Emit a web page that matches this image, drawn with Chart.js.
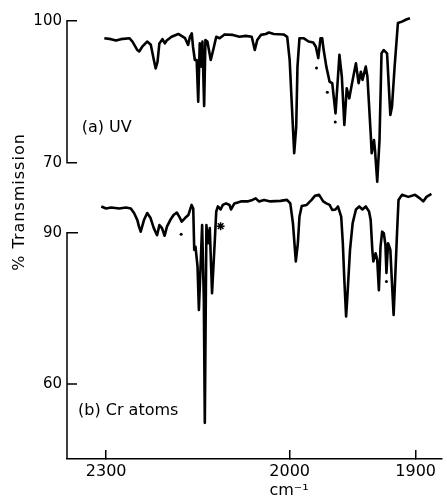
<!DOCTYPE html>
<html>
<head>
<meta charset="utf-8">
<script src="https://cdn.jsdelivr.net/npm/chart.js@4.4.0/dist/chart.umd.min.js"></script>
<style>
  html, body { margin: 0; padding: 0; background: #fff; }
  #wrap { width: 447px; height: 499px; }
</style>
</head>
<body>
<div id="wrap"><canvas id="irChart"></canvas></div>
<script>
// (a) UV trace: wavenumber (cm-1) and % transmission
const uvWave = [
  2303, 2292, 2284, 2276, 2262, 2257, 2249, 2246, 2241, 2233,
  2227, 2222, 2219, 2216, 2213, 2208, 2204, 2201, 2193, 2182,
  2171, 2166, 2163, 2160, 2158, 2155, 2152, 2149.5, 2147, 2144,
  2142.6, 2139.8, 2137.7, 2134.5, 2129, 2125, 2120, 2114.5, 2106.5, 2093,
  2082, 2072, 2062, 2057, 2053, 2047, 2039, 2034, 2026, 2010,
  2004, 2000, 1998.2, 1996.4, 1994.8, 1993.8, 1992.2, 1989, 1985, 1981.3,
  1979.2, 1977.3, 1975.5, 1974.2, 1973, 1970.9, 1968.3, 1966.2, 1963.6, 1960.5,
  1958.6, 1956.6, 1954.7, 1952.7, 1950, 1947.4, 1945.3, 1943.5, 1942.2, 1939.6,
  1938.3, 1935.7, 1934.9, 1933.1, 1932.3, 1930.5, 1928.7, 1927.1, 1925.3, 1922.7,
  1920.1, 1918.8, 1916.7, 1914.1, 1910.9, 1907, 1904.5
];
const uvTrans = [
  96.3, 96.1, 95.8, 96.1, 96.3, 95.6, 93.8, 93.5, 94.5, 95.6,
  94.9, 91.7, 89.9, 91.3, 95.2, 96.1, 95.2, 95.8, 96.6, 97.2,
  96.3, 94.9, 96.6, 97.3, 94.5, 91.7, 91.7, 82.9, 95.2, 90.3,
  95.6, 82.0, 95.9, 95.6, 91.7, 93.8, 96.6, 96.3, 97.1, 97.0,
  96.6, 96.8, 96.6, 93.8, 95.9, 97.0, 97.2, 97.5, 97.2, 97.1,
  96.6, 91.7, 81.8, 72.0, 77.6, 90.3, 96.3, 96.3, 95.6, 95.4,
  94.5, 92.1, 96.3, 96.3, 93.8, 90.3, 87.1, 86.8, 80.4, 92.8,
  88.2, 78.0, 85.7, 83.6, 87.5, 91.0, 86.8, 89.2, 87.5, 90.3,
  88.2, 76.2, 72.0, 74.8, 72.7, 66.0, 74.8, 93.1, 93.8, 93.1,
  80.1, 81.8, 90.3, 99.5, 99.8, 100.3, 100.5
];

// (b) Cr atoms trace
const crWave = [
  2308, 2300, 2292, 2278.5, 2267.7, 2259.7, 2254.4, 2249, 2246.3, 2243.5,
  2238.2, 2232.9, 2227.4, 2222.1, 2216.8, 2212.9, 2208.7, 2204.4, 2200.6, 2195.2,
  2189.8, 2184.5, 2180.6, 2176.5, 2171, 2165.6, 2160.3, 2157.6, 2156, 2153.9,
  2150.6, 2148.4, 2145.2, 2143.1, 2140.3, 2138.7, 2136.1, 2133.4, 2130.6, 2126.9,
  2122.6, 2120, 2117.3, 2112.9, 2109.2, 2103.9, 2098.4, 2095.8, 2090.3, 2079.7,
  2068.9, 2060.8, 2055.5, 2050, 2041.9, 2031.3, 2015.2, 2004.4, 1999.5, 1997.4,
  1995.1, 1993.5, 1992.2, 1990.4, 1986.5, 1982.6, 1980, 1976.6, 1973.4, 1970.9,
  1968.3, 1966.2, 1963.6, 1961.7, 1959.1, 1957.8, 1956.6, 1955.2, 1953.9, 1952.1,
  1950, 1947.4, 1944.8, 1942.2, 1939.6, 1937, 1935.7, 1934.4, 1933.6, 1931.8,
  1930.5, 1929.2, 1927.9, 1926.6, 1925.3, 1924, 1923.2, 1921.9, 1920.9, 1920.1,
  1918.8, 1917.5, 1916.2, 1914.8, 1913.6, 1910.9, 1905.8, 1900.5, 1896.6, 1894,
  1891.4, 1887.5
];
const crTrans = [
  95.2, 94.8, 95.0, 94.8, 95.0, 94.8, 93.9, 92.5, 91.2, 90.2,
  92.5, 93.9, 92.9, 90.9, 89.5, 91.5, 90.9, 89.4, 91.2, 92.5,
  93.5, 94.0, 93.2, 92.2, 92.9, 93.5, 95.5, 94.8, 86.6, 87.2,
  83.3, 74.7, 84.6, 91.5, 76.7, 52.3, 91.5, 87.9, 90.9, 78.0,
  87.9, 94.2, 95.2, 94.6, 95.5, 95.8, 95.5, 94.6, 95.8, 96.2,
  96.2, 96.5, 96.8, 96.2, 96.5, 96.2, 96.3, 96.5, 95.8, 91.9,
  84.3, 87.9, 93.2, 95.3, 95.5, 96.5, 97.3, 97.5, 96.2, 95.8,
  95.5, 94.5, 94.6, 95.2, 93.2, 87.9, 80.6, 73.4, 78.6, 86.6,
  91.9, 94.6, 95.2, 94.6, 95.2, 94.2, 92.5, 86.6, 84.3, 85.9,
  84.6, 78.6, 87.2, 90.2, 89.9, 87.6, 82.0, 87.9, 87.2, 86.6,
  80.0, 73.7, 81.3, 89.9, 96.5, 97.5, 97.1, 97.5, 96.8, 96.2,
  97.1, 97.7
];

// small dots and the asterisk marked under some bands
const uvDotWave = [1978.7, 1970.1, 1963.8];
const uvDotTrans = [90.0, 84.9, 78.6];
const crDotWave = [2177.4, 1923.2];
const crDotTrans = [89.7, 80.3];
const crStarWave = [2112.9];
const crStarTrans = [91.3];

const xTicks = [2300, 2000, 1900];
const uvTicks = [100, 70];
const crTicks = [90, 60];

// the chart paper runs twice as wide below 2000 cm-1
const BREAK_AT = 2000;
const EXPAND = 2.06;

class SplitWaveScale extends Chart.LinearScale {
  units(v) {
    return v >= BREAK_AT ? this.max - v : (this.max - BREAK_AT) + EXPAND * (BREAK_AT - v);
  }
  getPixelForValue(v) {
    return this.left + this.width * this.units(v) / this.units(this.min);
  }
  getValueForPixel(p) {
    const u = (p - this.left) / this.width * this.units(this.min);
    const upper = this.max - BREAK_AT;
    return u <= upper ? this.max - u : BREAK_AT - (u - upper) / EXPAND;
  }
}
SplitWaveScale.id = "splitwave";
SplitWaveScale.defaults = Chart.LinearScale.defaults;
Chart.register(SplitWaveScale);

const toPoints = (xs, ys) => xs.map((x, i) => ({ x, y: ys[i] }));

const FONT = '"DejaVu Sans", sans-serif';
const Y_FONT_SIZE = 15;

// width of the widest label, so mirrored labels can be pushed back left of the axis
const textWidth = (labels) => {
  const c = document.createElement("canvas").getContext("2d");
  c.font = Y_FONT_SIZE + "px " + FONT;
  return Math.max(...labels.map((l) => c.measureText(String(l)).width));
};

// broken y axis, labels and axis titles drawn like the paper original
const paperAxes = {
  id: "paperAxes",
  afterDraw(chart) {
    const { ctx, chartArea, scales } = chart;
    const x0 = chartArea.left;
    ctx.save();
    ctx.strokeStyle = "#000";
    ctx.lineWidth = 1.5;

    const yA = scales.yA;
    const yB = scales.yB;
    const a1 = yA.getPixelForValue(uvTicks[0]);
    const a2 = yA.getPixelForValue(uvTicks[1]);
    const b1 = yB.getPixelForValue(crTicks[0]);
    const b2 = yB.getPixelForValue(crTicks[1]);

    ctx.beginPath();
    ctx.moveTo(x0 + 10, a1);
    ctx.lineTo(x0, a1);
    ctx.lineTo(x0, a2);
    ctx.lineTo(x0 + 10, a2);
    ctx.moveTo(x0 + 11, b1);
    ctx.lineTo(x0, b1);
    ctx.lineTo(x0, chartArea.bottom);
    ctx.moveTo(x0, b2);
    ctx.lineTo(x0 + 10, b2);
    ctx.stroke();

    ctx.fillStyle = "#000";
    ctx.font = "16px " + FONT;
    ctx.textBaseline = "middle";
    ctx.textAlign = "left";
    const xs = scales.x;
    ctx.fillText("(a) UV", xs.getPixelForValue(2340), yA.getPixelForValue(77.3));
    ctx.fillText("(b) Cr atoms", xs.getPixelForValue(2346), yB.getPixelForValue(54.6));

    ctx.textAlign = "center";
    ctx.fillText("cm\u207B\u00B9", 289, 491);

    ctx.translate(20, 202);
    ctx.rotate(-Math.PI / 2);
    ctx.letterSpacing = "1px";
    ctx.fillText("% Transmission", 0, 0);
    ctx.restore();
  },
};

const noPad = (s) => {
  s.paddingLeft = 0;
  s.paddingRight = 0;
  s.paddingTop = 0;
  s.paddingBottom = 0;
};

// both y axes sit on the plot edge with zero width; mirrored labels are
// shifted back so they hang 5px left of the axis line
const leftAxis = (min, max, ticks) => ({
  type: "linear",
  position: "left",
  min,
  max,
  afterBuildTicks: (s) => {
    s.ticks = ticks.map((v) => ({ value: v }));
  },
  afterFit: (s) => {
    s.width = 0;
    noPad(s);
  },
  border: { display: false },
  grid: { display: false, drawTicks: false },
  ticks: {
    mirror: true,
    crossAlign: "far",
    padding: -5 - textWidth(ticks),
    color: "#000",
    font: { family: FONT, size: Y_FONT_SIZE },
    callback: (v) => String(v),
  },
});

new Chart(document.getElementById("irChart"), {
  type: "line",
  data: {
    datasets: [
      {
        label: "(a) UV",
        data: toPoints(uvWave, uvTrans),
        yAxisID: "yA",
        borderColor: "#000",
        borderWidth: 2.6,
        borderJoinStyle: "round",
        pointRadius: 0,
        tension: 0,
      },
      {
        label: "(b) Cr atoms",
        data: toPoints(crWave, crTrans),
        yAxisID: "yB",
        borderColor: "#000",
        borderWidth: 2.6,
        borderJoinStyle: "round",
        pointRadius: 0,
        tension: 0,
      },
      {
        type: "scatter",
        data: toPoints(uvDotWave, uvDotTrans),
        yAxisID: "yA",
        pointRadius: 1.5,
        backgroundColor: "#000",
        borderWidth: 0,
      },
      {
        type: "scatter",
        data: toPoints(crDotWave, crDotTrans),
        yAxisID: "yB",
        pointRadius: 1.5,
        backgroundColor: "#000",
        borderWidth: 0,
      },
      {
        type: "scatter",
        data: toPoints(crStarWave, crStarTrans),
        yAxisID: "yB",
        pointStyle: "star",
        pointRadius: 4,
        borderColor: "#000",
        borderWidth: 1.5,
      },
    ],
  },
  options: {
    responsive: true,
    maintainAspectRatio: false,
    animation: false,
    layout: { padding: { top: 10, left: 67, right: 0, bottom: 0 } },
    plugins: {
      legend: { display: false },
      tooltip: { enabled: false },
    },
    scales: {
      x: {
        type: "splitwave",
        min: 1879.5,
        max: 2364,
        bounds: "data",
        afterBuildTicks: (s) => {
          s.ticks = xTicks.map((v) => ({ value: v }));
        },
        afterFit: (s) => {
          s.height = 40;
          noPad(s);
        },
        border: { display: true, color: "#000", width: 1.5 },
        grid: {
          drawOnChartArea: false,
          drawTicks: true,
          tickLength: -9,
          color: "#000",
          lineWidth: 1.5,
        },
        ticks: {
          autoSkip: false,
          maxRotation: 0,
          padding: 12,
          color: "#000",
          font: { family: FONT, size: 16 },
          callback: (v) => String(v),
        },
      },
      yA: leftAxis(7.4, 102.26, uvTicks),
      yB: leftAxis(45.13, 134.15, crTicks),
    },
  },
  plugins: [paperAxes],
});
</script>
</body>
</html>
